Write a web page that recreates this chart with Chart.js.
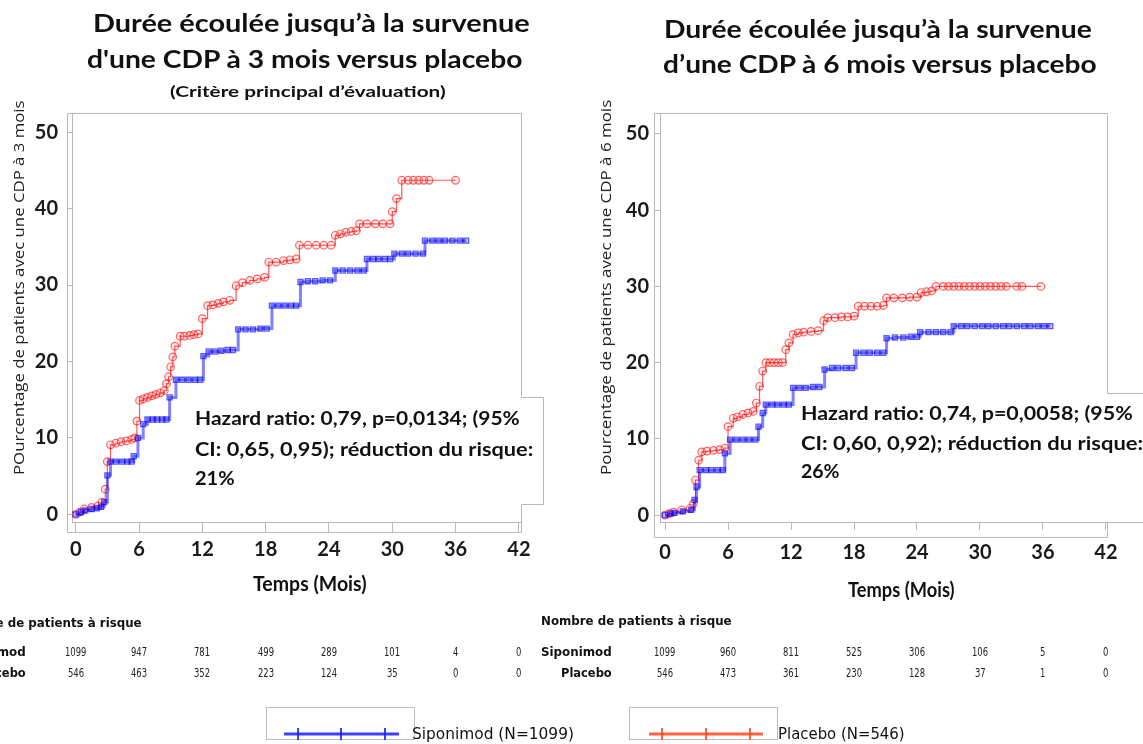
<!DOCTYPE html>
<html>
<head>
<meta charset="utf-8">
<script src="https://cdn.jsdelivr.net/npm/chart.js@4/dist/chart.umd.min.js"></script>
<style>
  body { margin: 0; width: 1143px; height: 744px; overflow: hidden; background: #fff; position: relative; color: #111; }
  canvas { position: absolute; top: 0; }
  .txt { position: absolute; white-space: nowrap; transform-origin: 0 0; line-height: 1.2; }
  .box { position: absolute; border: 1px solid #bdbdbd; box-sizing: border-box; }
</style>
</head>
<body>
<canvas id="c3" width="570" height="744" style="left:0"></canvas>
<canvas id="c6" width="563" height="744" style="left:580px"></canvas>
<svg id="leg" width="1143" height="744" style="position:absolute;left:0;top:0"></svg>
<script>
// [month, cumulative % with CDP], censor marks included
const placebo3 = [[0,0],[0.4,0.3],[0.8,0.7],[1.5,0.9],[2.1,1.1],[2.5,1.6],[2.8,3.3],[3.0,6.9],[3.3,9.1],[3.8,9.3],[4.3,9.5],[4.8,9.6],[5.3,9.8],[5.6,10.0],[5.8,12.2],[6.05,14.9],[6.4,15.1],[6.8,15.3],[7.2,15.5],[7.6,15.7],[8.0,15.9],[8.4,16.2],[8.6,17.1],[8.8,18.0],[9.0,19.3],[9.2,20.6],[9.4,22.0],[9.9,23.3],[10.3,23.3],[10.8,23.4],[11.2,23.5],[11.6,23.6],[12.0,25.6],[12.5,27.3],[13.0,27.4],[13.5,27.6],[14.0,27.8],[14.6,28.0],[15.2,29.9],[15.8,30.3],[16.5,30.6],[17.2,30.8],[17.9,31.0],[18.3,33.0],[19.0,33.0],[19.7,33.2],[20.3,33.3],[20.9,33.4],[21.2,35.2],[22.0,35.2],[22.8,35.2],[23.5,35.2],[24.2,35.2],[24.6,36.5],[25.1,36.7],[25.6,36.9],[26.1,37.0],[26.6,37.1],[26.9,38.0],[27.6,38.0],[28.4,38.0],[29.1,38.0],[29.8,38.0],[30.0,39.6],[30.4,41.3],[30.9,43.7],[31.5,43.7],[32.0,43.7],[32.5,43.7],[33.0,43.7],[33.5,43.7],[36.0,43.7]];
const siponimod3 = [[0,0],[0.5,0.3],[0.9,0.5],[1.5,0.7],[2.0,0.8],[2.4,1.0],[2.7,1.6],[3.0,5.1],[3.3,6.9],[3.8,6.9],[4.4,6.9],[4.9,6.9],[5.3,6.9],[5.5,7.6],[5.9,10.0],[6.4,11.8],[6.8,12.4],[7.3,12.4],[7.7,12.4],[8.2,12.4],[8.6,12.4],[8.9,15.3],[9.5,17.6],[10.1,17.6],[10.7,17.6],[11.3,17.6],[11.8,17.6],[12.1,20.7],[12.6,21.3],[13.2,21.3],[13.8,21.4],[14.4,21.5],[14.9,21.5],[15.4,24.2],[16.1,24.2],[16.8,24.2],[17.5,24.3],[18.1,24.3],[18.6,27.3],[19.2,27.3],[19.8,27.3],[20.4,27.3],[20.9,27.3],[21.3,30.4],[22.0,30.5],[22.7,30.5],[23.4,30.6],[24.1,30.6],[24.6,31.9],[25.3,31.9],[26.0,31.9],[26.7,31.9],[27.3,31.9],[27.6,33.4],[28.2,33.4],[28.7,33.4],[29.3,33.4],[29.8,33.4],[30.2,34.1],[30.9,34.1],[31.5,34.1],[32.2,34.1],[32.9,34.1],[33.1,35.8],[33.8,35.8],[34.4,35.8],[35.0,35.8],[35.7,35.8],[36.4,35.8],[37.0,35.8]];
const placebo6 = [[0,0],[0.4,0.2],[0.8,0.4],[1.6,0.7],[2.4,0.9],[2.7,1.5],[2.9,4.6],[3.2,7.2],[3.5,8.3],[4.0,8.4],[4.6,8.5],[5.2,8.6],[5.7,8.8],[6.0,11.6],[6.5,12.7],[6.9,12.9],[7.4,13.2],[7.9,13.4],[8.4,13.6],[8.7,14.7],[9.0,16.9],[9.3,18.9],[9.6,20.0],[10.0,20.0],[10.4,20.0],[10.8,20.0],[11.2,20.0],[11.5,21.7],[11.8,22.6],[12.2,23.7],[12.7,23.9],[13.2,24.0],[13.9,24.1],[14.6,24.2],[15.1,25.5],[15.5,25.9],[16.2,25.9],[16.8,26.0],[17.4,26.0],[18.0,26.1],[18.4,27.4],[19.0,27.4],[19.6,27.4],[20.2,27.4],[20.8,27.5],[21.1,28.5],[21.8,28.5],[22.6,28.5],[23.3,28.6],[24.0,28.6],[24.4,29.2],[24.9,29.3],[25.4,29.4],[25.8,30.0],[26.5,30.0],[27.0,30.0],[27.5,30.0],[28.0,30.0],[28.5,30.0],[29.0,30.0],[29.5,30.0],[30.0,30.0],[30.5,30.0],[31.0,30.0],[31.5,30.0],[32.0,30.0],[32.5,30.0],[33.5,30.0],[34.0,30.0],[35.8,30.0]];
const siponimod6 = [[0,0],[0.5,0.2],[0.9,0.3],[1.7,0.5],[2.5,0.7],[2.8,2.0],[3.0,3.7],[3.3,5.9],[3.9,5.9],[4.4,5.9],[5.0,5.9],[5.5,5.9],[5.7,8.1],[6.2,9.9],[6.8,9.9],[7.4,9.9],[8.0,9.9],[8.6,9.9],[8.9,11.6],[9.3,13.4],[9.6,14.5],[10.2,14.5],[10.7,14.5],[11.3,14.5],[11.8,14.5],[12.2,16.7],[12.8,16.7],[13.4,16.7],[14.1,16.8],[14.7,16.8],[15.2,19.1],[15.9,19.3],[16.5,19.3],[17.2,19.3],[17.8,19.3],[18.2,21.3],[18.9,21.3],[19.5,21.3],[20.2,21.3],[20.8,21.3],[21.1,23.2],[21.9,23.3],[22.7,23.3],[23.4,23.4],[24.0,23.4],[24.3,24.0],[25.1,24.0],[25.8,24.0],[26.5,24.0],[27.2,24.0],[27.5,24.8],[28.2,24.8],[28.8,24.8],[29.5,24.8],[30.2,24.8],[30.8,24.8],[31.5,24.8],[32.2,24.8],[32.8,24.8],[33.5,24.8],[34.2,24.8],[34.8,24.8],[35.5,24.8],[36.1,24.8],[36.7,24.8]];

const xTicks = [0, 6, 12, 18, 24, 30, 36, 42];
const yTicks = [0, 10, 20, 30, 40, 50];

// patients at risk, one per x tick
const riskSip3 = [1099, 947, 781, 499, 289, 101, 4, 0];
const riskPla3 = [546, 463, 352, 223, 124, 35, 0, 0];
const riskSip6 = [1099, 960, 811, 525, 306, 106, 5, 0];
const riskPla6 = [546, 473, 361, 230, 128, 37, 1, 0];

const seriesNames = ['Siponimod (N=1099)', 'Placebo (N=546)'];
const riskRowNames = ['Siponimod', 'Placebo'];

const GRAY = '#b8b8b8';

const framePlugin = {
  id: 'frame',
  afterDraw(chart, args, o) {
    const { ctx, chartArea: a } = chart;
    const L = Math.round(a.left - o.leftGap) + 0.5, T = Math.round(a.top) + 0.5;
    const R = Math.round(a.right) + 0.5, B = Math.round(a.bottom + o.bottomGap) + 0.5;
    const nt = o.notchTop + 0.5, nb = o.notchBottom + 0.5, nr = o.notchRight + 0.5;
    ctx.save();
    ctx.strokeStyle = GRAY;
    ctx.lineWidth = 1;
    ctx.beginPath();
    ctx.moveTo(L, T); ctx.lineTo(R, T); ctx.lineTo(R, nt); ctx.lineTo(nr, nt);
    if (o.closed) ctx.lineTo(nr, nb); else ctx.moveTo(nr, nb);
    ctx.lineTo(R, nb); ctx.lineTo(R, B); ctx.lineTo(L, B); ctx.lineTo(L, T);
    ctx.stroke();
    ctx.restore();
  }
};

function pts(rows) { return rows.map(([x, y]) => ({ x, y })); }

function makeChart(id, pla, sip, g) {
  return new Chart(document.getElementById(id), {
    type: 'line',
    data: {
      datasets: [
        {
          label: seriesNames[0], data: pts(sip), stepped: true, order: 0,
          borderColor: 'rgba(25,25,255,0.55)', borderWidth: 3,
          pointStyle: 'rect', pointRadius: 3.6, pointBorderWidth: 1.3,
          pointBorderColor: 'rgba(0,0,255,0.6)', pointBackgroundColor: 'rgba(0,0,255,0.22)'
        },
        {
          label: seriesNames[1], data: pts(pla), stepped: true, order: 1,
          borderColor: 'rgba(255,0,0,0.65)', borderWidth: 1.2,
          pointStyle: 'circle', pointRadius: 3.8, pointBorderWidth: 1.2,
          pointBorderColor: 'rgba(255,0,0,0.6)', pointBackgroundColor: 'rgba(255,0,0,0.08)'
        }
      ]
    },
    options: {
      responsive: false,
      animation: false,
      devicePixelRatio: 1,
      layout: { padding: { top: 113, right: g.padRight, bottom: 182, left: 0 } },
      plugins: { legend: { display: false }, tooltip: { enabled: false }, frame: g.frame },
      scales: {
        x: {
          type: 'linear', min: g.xMin, max: g.xMax,
          afterBuildTicks: s => { s.ticks = xTicks.map(v => ({ value: v })); },
          afterFit: s => { s.height = 40; },
          grid: { drawOnChartArea: false, tickLength: g.xTickLen, color: GRAY },
          border: { color: GRAY },
          ticks: { padding: g.xPad, color: '#1a1a1a', font: { family: 'Lato', weight: 'bold', size: 20 } }
        },
        y: {
          min: g.yMin, max: g.yMax,
          afterBuildTicks: s => { s.ticks = yTicks.map(v => ({ value: v })); },
          afterFit: s => { s.width = g.yWidth; },
          grid: { drawOnChartArea: false, tickLength: g.yTickLen, color: GRAY },
          border: { color: GRAY },
          ticks: { padding: g.yPad, color: '#1a1a1a', font: { family: 'Lato', weight: 'bold', size: 20 } }
        }
      }
    },
    plugins: [framePlugin]
  });
}

const ch3 = makeChart('c3', placebo3, siponimod3, {
  padRight: 49, yWidth: 72, xMin: -0.35, xMax: 42.2, yMin: -1.0, yMax: 52.5,
  xTickLen: 10, xPad: 6, yTickLen: 5, yPad: 9,
  frame: { leftGap: 5, bottomGap: 10, notchTop: 397, notchBottom: 504, notchRight: 543, closed: true }
});
const ch6 = makeChart('c6', placebo6, siponimod6, {
  padRight: 36, yWidth: 80, xMin: -0.48, xMax: 42.1, yMin: -0.9, yMax: 52.75,
  xTickLen: 8, xPad: 11, yTickLen: 6, yPad: 5,
  frame: { leftGap: 6, bottomGap: 15, notchTop: 393, notchBottom: 522, notchRight: 563, closed: false }
});

// place a line of text at (x, centre y); w stretches it to a width, sx squeezes it
function addText(str, o) {
  const el = document.createElement('div');
  el.className = 'txt';
  el.textContent = str;
  el.style.font = o.font;
  if (o.color) el.style.color = o.color;
  document.body.appendChild(el);
  const w = el.offsetWidth, h = el.offsetHeight;
  const s = o.w ? o.w / w : (o.sx || 1);
  if (o.rot) {
    el.style.left = (o.x - h / 2) + 'px';
    el.style.top = o.y + 'px';
    el.style.transform = `rotate(-90deg) scaleX(${s})`;
    return el;
  }
  let left = o.x;
  if (o.align === 'center') left -= w * s / 2;
  if (o.align === 'right') left -= w * s;
  el.style.left = left + 'px';
  el.style.top = (o.y - h / 2) + 'px';
  el.style.transform = `scaleX(${s})`;
  return el;
}

const TF = 'bold 25px Lato, sans-serif';
addText('Durée écoulée jusqu’à la survenue', { x: 93, y: 22, w: 437, font: TF });
addText('d\'une CDP à 3 mois versus placebo', { x: 87, y: 58, w: 435, font: TF });
addText('(Critère principal d’évaluation)', { x: 170, y: 90, w: 276, font: 'bold 16px Lato, sans-serif' });
addText('Durée écoulée jusqu’à la survenue', { x: 664, y: 28, w: 428, font: TF });
addText('d’une CDP à 6 mois versus placebo', { x: 663, y: 63, w: 434, font: TF });

const AF = 'bold 18px Lato, sans-serif';
addText('Hazard  ratio: 0,79, p=0,0134; (95%', { x: 195, y: 418, w: 325, font: AF });
addText('CI: 0,65, 0,95); réduction du risque:', { x: 195, y: 449, w: 338, font: AF });
addText('21%', { x: 195, y: 478, w: 40, font: AF });
addText('Hazard  ratio: 0,74, p=0,0058; (95%', { x: 801, y: 413, w: 332, font: AF });
addText('CI: 0,60, 0,92); réduction du risque:', { x: 801, y: 443, w: 342, font: AF });
addText('26%', { x: 801, y: 471, w: 39, font: AF });

addText('Temps (Mois)', { x: 253, y: 583, w: 114, font: 'bold 20px Lato, sans-serif' });
addText('Temps (Mois)', { x: 848, y: 589, w: 107, font: 'bold 20px Lato, sans-serif' });

addText('POurcentage de patients avec une CDP à 3 mois', { x: 18, y: 475, w: 375, rot: true, font: '14px "Open Sans", sans-serif', color: '#222' });
addText('Pourcentage de patients avec une CDP à 6 mois', { x: 605, y: 475, w: 375, rot: true, font: '14px "Open Sans", sans-serif', color: '#222' });

// number-at-risk tables, columns on the chart's own x scale
const RF = '13px "Liberation Sans Narrow", "DejaVu Sans Condensed", "Noto Sans", sans-serif';
const RFB = 'bold 13px "Liberation Sans Narrow", "DejaVu Sans Condensed", "Noto Sans", sans-serif';
function riskTable(chart, offX, rows, g) {
  addText('Nombre de patients à risque', { x: g.headX, y: g.headY, w: 191, font: RFB });
  rows.forEach((vals, r) => {
    const cy = g.rowY[r];
    addText(riskRowNames[r], { x: g.labelRight - g.labelW[r], y: cy, w: g.labelW[r], font: RFB });
    vals.forEach((v, i) => {
      const px = offX + chart.scales.x.getPixelForValue(xTicks[i]);
      addText(String(v), { x: px, y: cy, align: 'center', sx: 0.72, font: RF, color: '#222' });
    });
  });
}
riskTable(ch3, 0, [riskSip3, riskPla3], { headX: -49, headY: 622, rowY: [651, 672], labelRight: 26, labelW: [71, 51] });
riskTable(ch6, 580, [riskSip6, riskPla6], { headX: 541, headY: 620, rowY: [651, 672], labelRight: 612, labelW: [71, 51] });

// legend
const legendItems = [
  { name: seriesNames[0], color: '#1f1fff', box: 266, x1: 284, x2: 399, crosses: [298, 341, 385], text: 412, tw: 162 },
  { name: seriesNames[1], color: '#ff4a1f', box: 629, x1: 649, x2: 763, crosses: [662, 706, 750], text: 778, tw: 127 }
];
const svg = document.getElementById('leg');
let svgMarkup = '';
legendItems.forEach(it => {
  const b = document.createElement('div');
  b.className = 'box';
  Object.assign(b.style, { left: it.box + 'px', top: '707px', width: '149px', height: '33px' });
  document.body.appendChild(b);
  svgMarkup += `<line x1="${it.x1}" y1="734" x2="${it.x2}" y2="734" stroke="${it.color}" stroke-width="3" opacity="0.85"/>`;
  it.crosses.forEach(cx => { svgMarkup += `<line x1="${cx}" y1="728" x2="${cx}" y2="740" stroke="${it.color}" stroke-width="2" opacity="0.85"/>`; });
  addText(it.name, { x: it.text, y: 734, w: it.tw, font: '15px "Liberation Sans Narrow", "DejaVu Sans Condensed", "Noto Sans", sans-serif' });
});
svg.innerHTML = svgMarkup;
document.body.appendChild(svg);
</script>
</body>
</html>
